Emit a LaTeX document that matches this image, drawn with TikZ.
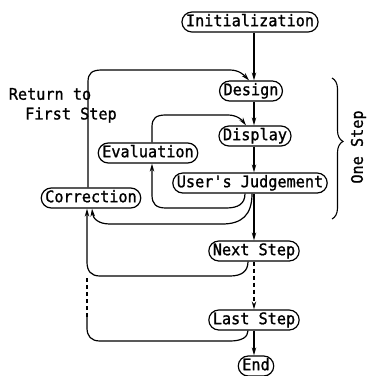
\documentclass[tikz,border=0pt]{standalone}
\usepackage{fontspec}
\newfontfamily\plotfont[FakeStretch=0.95,FakeBold=1.2]{DejaVu Sans Mono}
\usetikzlibrary{arrows.meta,decorations.pathreplacing}
\begin{document}
\begin{tikzpicture}[x=1pt,y=-1pt,
  every node/.style={font=\plotfont\fontsize{16}{18}\selectfont},
  stepbox/.style={draw, line width=1.2pt, rounded corners=10pt,
    inner xsep=4pt, inner ysep=2.5pt, text height=11.7pt, text depth=3.3pt},
  plaintext/.style={inner sep=0pt},
  link/.style={line width=1.2pt},
  flow/.style={link, -{Stealth[length=8pt,width=4.5pt]}},
  gap/.style={link, dash pattern=on 4pt off 3pt}]
\useasboundingbox (0,0) rectangle (367,376);

% main chain of steps
\node[stepbox] (init)    at (250,22)  {Initialization};
\node[stepbox] (design)  at (251,91)  {Design};
\node[stepbox] (display) at (255,136) {Display};
\node[stepbox] (eval)    at (148,153) {Evaluation};
\node[stepbox] (judge)   at (250,183) {User\char"27 s Judgement};
\node[stepbox] (corr)    at (91,198)  {Correction};
\node[stepbox] (next)    at (254,251) {Next Step};
\node[stepbox] (last)    at (254,320) {Last Step};
\node[stepbox] (end)     at (256,366) {End};

% labels
\node[plaintext] (ret)   at (50,94)  {Return to};
\node[plaintext] (first) at (71,115) {First Step};
\node[plaintext, rotate=90] (onestep) at (358.5,147) {One Step};

% vertical spine
\coordinate (spine) at (254,0);
\draw[flow] (init.south -| spine)    -- (design.north -| spine);
\draw[flow] (design.south -| spine)  -- (display.north -| spine);
\draw[flow] (display.south -| spine) -- (judge.north -| spine);
\draw[flow] (judge.south -| spine)   -- (next.north -| spine);
\draw[flow, gap] (next.south -| spine) -- (last.north -| spine);
\draw[flow] (last.south -| spine)    -- (end.north -| spine);

% return to first step
\draw[flow] ([xshift=-3pt]corr.north) -- (88,82)
  .. controls (88,73) and (92,70) .. (102,70) -- (230,70)
  .. controls (239,70) and (244,75) .. ([xshift=-2pt]design.north);

% evaluation back to display
\draw[flow] ([xshift=4pt]eval.north) -- (152,127)
  .. controls (152,118) and (156,115) .. (166,115) -- (228,115)
  .. controls (237,115) and (242,120) .. ([xshift=-9pt]display.north);

% judgement to evaluation
\draw[flow] ([xshift=-5pt]judge.south)
  .. controls (245,204) and (238,208) .. (226,208) -- (166,208)
  .. controls (156,208) and (152,204) .. (152,195) -- ([xshift=4pt]eval.south);

% judgement to correction
\draw[flow] ([xshift=2pt]judge.south)
  .. controls (252,215) and (242,224) .. (222,224) -- (110,224)
  .. controls (99,224) and (93,219) .. ([xshift=1pt]corr.south);

% next step to correction
\draw[flow] ([xshift=-6pt]next.south)
  .. controls (248,271) and (242,276) .. (230,276) -- (100,276)
  .. controls (91,276) and (87,271) .. (87,262) -- ([xshift=-4pt]corr.south);

% last step to correction
\coordinate (lj) at (87,317);
\draw[link] ([xshift=-6pt]last.south)
  .. controls (248,337) and (242,341) .. (230,341) -- (100,341)
  .. controls (91,341) and (87,336) .. (87,328) -- (lj);
\draw[gap] (lj) -- (87,277);

% one step brace
\draw[link, line width=1.1pt, decorate,
      decoration={brace, amplitude=11pt, aspect=0.45}]
  (332,78) -- (332,219);
\end{tikzpicture}
\end{document}
